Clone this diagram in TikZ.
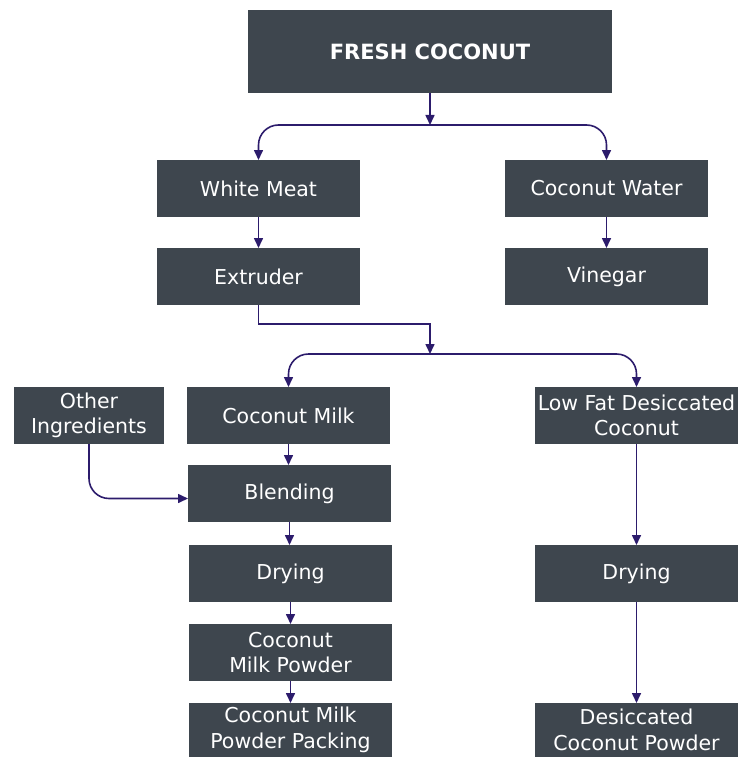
\documentclass[tikz,border=0pt]{standalone}
\usepackage{fontspec}
\setmainfont{DejaVu Sans}
\usetikzlibrary{arrows.meta}
\definecolor{boxfill}{HTML}{3E464E}
\definecolor{linkcol}{HTML}{2C1C6C}
\begin{document}
\begin{tikzpicture}[x=1pt,y=-1pt,
  box/.style={rectangle, fill=boxfill, text=white, inner sep=0pt, outer sep=0pt,
    minimum width=203pt, minimum height=57pt, align=center,
    font=\fontsize{20.5}{25.5}\selectfont},
  arr/.style={draw=linkcol, line width=1.6pt, -{Triangle[length=10pt,width=9pt]}},
  roundarr/.style={arr, rounded corners=20pt}]
\useasboundingbox (0,0) rectangle (738,757);

% top of the tree
\node[box, minimum width=364pt, minimum height=83pt, font=\fontsize{21}{25}\selectfont\bfseries]
  (fresh) at (430,51.5) {FRESH COCONUT};
\node[box] (wm)  at (258.5,188.5) {White Meat};
\node[box] (cw)  at (606.5,188.5) {Coconut Water};
\node[box] (ext) at (258.5,276.5) {Extruder};
\node[box] (vin) at (606.5,276.5) {Vinegar};

% second level
\node[box, minimum width=150pt] (oi) at (89,415.5) {Other\\Ingredients};
\node[box] (cm)  at (288.5,415.5) {Coconut Milk};
\node[box] (lf)  at (636.5,415.5) {Low Fat Desiccated\\Coconut};
\node[box] (bl)  at (289.5,493.5) {Blending};
\node[box] (dr1) at (290.5,573.5) {Drying};
\node[box] (cmp) at (290.5,652.5) {Coconut\\Milk Powder};
\node[box, minimum height=54pt] (pk)  at (290.5,730) {Coconut Milk\\Powder Packing};
\node[box] (dr2) at (636.5,573.5) {Drying};
\node[box, minimum height=54pt] (dcp) at (636.5,730) {Desiccated\\Coconut Powder};

% junction points of the splits
\coordinate (j1) at (430,125);
\coordinate (j2) at (430,354);

\draw[arr] (fresh) -- (j1);
\draw[roundarr] (j1) -| (wm.north);
\draw[roundarr] (j1) -| (cw.north);
\draw[arr] (wm) -- (ext);
\draw[arr] (cw) -- (vin);

\draw[arr] (ext.south) -- ++(0,19) -| (j2);
\draw[roundarr] (j2) -| (cm.north);
\draw[roundarr] (j2) -| (lf.north);

\draw[arr] (cm.south) -- (cm.south |- bl.north);
\draw[roundarr] (oi.south) |- ([yshift=-5pt]bl.west);
\draw[arr] (bl.south) -- (bl.south |- dr1.north);
\draw[arr] (dr1) -- (cmp);
\draw[arr] (cmp) -- (pk);
\draw[arr] (lf) -- (dr2);
\draw[arr] (dr2) -- (dcp);
\end{tikzpicture}
\end{document}
